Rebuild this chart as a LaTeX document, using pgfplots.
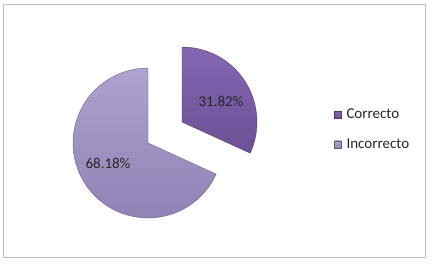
\documentclass[border=0pt]{standalone}
\usepackage{fontspec}
\setmainfont{Carlito}
\usepackage{pgfplots}
\pgfplotsset{compat=1.18}
\definecolor{corrTop}{HTML}{8466B2}
\definecolor{corrBot}{HTML}{6E5096}
\definecolor{incTop}{HTML}{AFA2CF}
\definecolor{incBot}{HTML}{9083B4}
\definecolor{frameGray}{HTML}{BDBDBD}
\begin{document}
\begin{tikzpicture}
\begin{axis}[
  width=422bp, height=253bp, scale only axis,
  xmin=-145, xmax=277, ymin=-114, ymax=139,
  axis lines=box, axis line style={frameGray, line width=0.8pt},
  xtick=\empty, ytick=\empty,
  clip=false,
  font=\fontsize{15bp}{18bp}\selectfont,
  legend style={at={(axis cs:186,26)}, anchor=north west, yshift=9bp, draw=none, fill=none,
    inner xsep=0pt, inner ysep=0pt, row sep=16.5bp,
    font=\fontsize{15bp}{18bp}\selectfont,
    nodes={inner xsep=5bp, inner ysep=1bp, text=black!85}},
  legend cell align=left,
  legend image code/.code={\path[#1] (0bp,-3.5bp) rectangle (7bp,3.5bp);},
]
\addlegendimage{draw=corrBot!70!black, line width=0.3pt, top color=corrTop, bottom color=corrBot}
\addlegendentry{Correcto}
\addlegendimage{draw=incBot!70!black, line width=0.3pt, top color=incTop, bottom color=incBot}
\addlegendentry{Incorrecto}
% Correcto 31.82% (exploded)
\addplot[forget plot, data cs=polar, draw=corrBot!75!black, line width=0.4pt,
  top color=corrTop, bottom color=corrBot, xshift=34bp, yshift=21bp]
  coordinates {(0,0) (90,75) (85,75) (80,75) (75,75) (70,75) (65,75) (60,75)
  (55,75) (50,75) (45,75) (40,75) (35,75) (30,75) (25,75) (20,75) (15,75)
  (10,75) (5,75) (0,75) (-5,75) (-10,75) (-15,75) (-20,75) (-24.55,75) (0,0)};
% Incorrecto 68.18%
\addplot[forget plot, data cs=polar, draw=incBot!75!black, line width=0.4pt,
  top color=incTop, bottom color=incBot]
  coordinates {(0,0) (-24.55,75) (-30,75) (-35,75) (-40,75) (-45,75) (-50,75)
  (-55,75) (-60,75) (-65,75) (-70,75) (-75,75) (-80,75) (-85,75) (-90,75)
  (-95,75) (-100,75) (-105,75) (-110,75) (-115,75) (-120,75) (-125,75)
  (-130,75) (-135,75) (-140,75) (-145,75) (-150,75) (-155,75) (-160,75)
  (-165,75) (-170,75) (-175,75) (-180,75) (-185,75) (-190,75) (-195,75)
  (-200,75) (-205,75) (-210,75) (-215,75) (-220,75) (-225,75) (-230,75)
  (-235,75) (-240,75) (-245,75) (-250,75) (-255,75) (-260,75) (-265,75)
  (-270,75) (0,0)};
\node[text=black!85] at (axis cs:73,42) {31.82\%};
\node[text=black!85] at (axis cs:-40,-20) {68.18\%};
\end{axis}
\useasboundingbox ([xshift=-3bp,yshift=-10bp]current axis.south west) rectangle ([xshift=10bp,yshift=4bp]current axis.north east);
\end{tikzpicture}
\end{document}
